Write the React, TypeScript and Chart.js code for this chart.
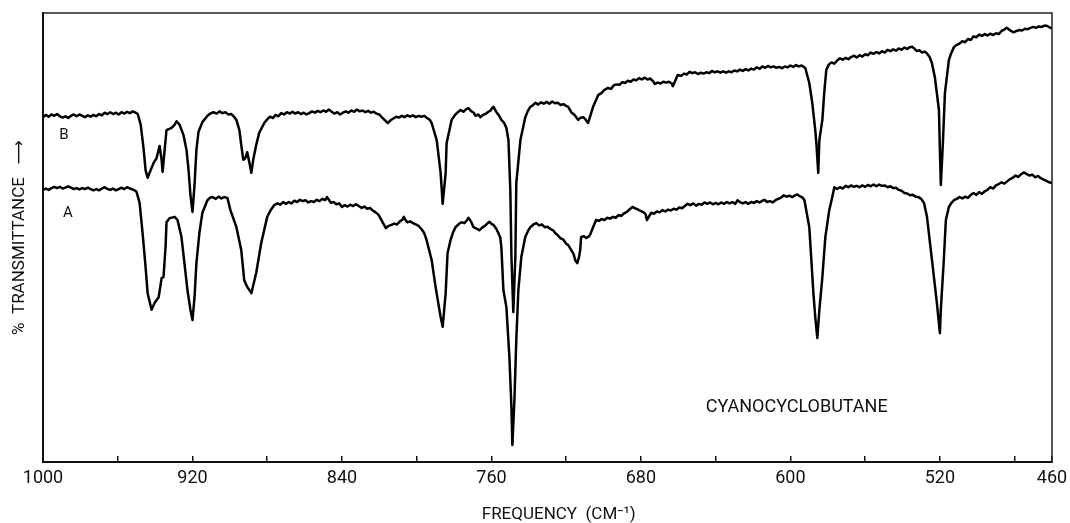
import React, { useEffect, useRef } from "react";
import { Chart, registerables } from "chart.js";

Chart.register(...registerables);

// Frequency axis (cm^-1), plotted high -> low
const freqMax = 1000;
const freqMin = 460;
const tickValues = [1000, 960, 920, 880, 840, 800, 760, 720, 680, 640, 600, 560, 520, 480, 460];
const labeledTicks = [1000, 920, 840, 760, 680, 600, 520, 460];

// Spectrum B (upper trace): [frequency, % transmittance]
const traceB: [number, number][] = [
  [1000, 76.8], [998.5, 77.3], [997, 76.9], [995.5, 77.4], [994, 77.1], [992.5, 77.5], [991, 77.0],
  [989.5, 76.7], [988, 77.0], [986.5, 76.6], [985, 77.1], [983.5, 77.4], [982, 77.0], [980.5, 77.4],
  [979, 77.1], [977.5, 76.8], [976, 77.2], [974.5, 76.9], [973, 77.3], [971.5, 77.0], [970, 77.5],
  [968.5, 77.2], [967, 77.8], [965.5, 77.5], [964, 77.9], [962.5, 77.5], [961, 77.8], [959.5, 77.4],
  [958, 77.9], [956.5, 77.6], [955, 78.0], [953.5, 77.7], [952, 78.1], [950.5, 77.8], [949.3, 77.5],
  [947.7, 75.1], [946.1, 69.5], [945.1, 65.0], [944.0, 63.3], [942.4, 65.0], [940.8, 66.6], [939.2, 67.7],
  [937.6, 70.4], [936.5, 67.3], [936.0, 64.6], [934.9, 69.5], [933.9, 73.9], [931.2, 74.4], [929.6, 75.1],
  [928.5, 75.9], [926.9, 75.1], [924.8, 72.8], [923.2, 69.5], [922.1, 65.0], [921.1, 59.5], [920.0, 55.7],
  [918.9, 61.7], [917.9, 69.5], [916.8, 73.5], [914.7, 75.7], [912.0, 77.1], [910.5, 77.6], [908.8, 77.9],
  [907, 77.6], [905.6, 78.1], [904, 77.7], [902.4, 77.9], [900.8, 77.4], [899.2, 77.5], [897.8, 76.9],
  [896.5, 76.2], [894.9, 73.9], [893.9, 70.6], [892.8, 67.3], [891.7, 67.7], [890.7, 69.0], [889.6, 66.8],
  [888.5, 64.4], [887.5, 67.3], [885.9, 70.6], [884.3, 73.3], [881.6, 75.5], [880, 76.3], [878.5, 76.9],
  [877, 76.6], [875.5, 77.3], [874, 77.0], [872.5, 77.7], [871, 77.4], [869.5, 77.9], [868, 77.6],
  [866.5, 78.0], [865, 77.6], [863.5, 77.9], [862, 77.5], [860.5, 77.8], [859, 77.4], [857.5, 77.7],
  [856, 78.1], [854.5, 77.8], [853, 78.2], [851.5, 77.9], [850, 78.3], [848.5, 78.0], [847, 78.5],
  [845.5, 78.0], [844, 77.6], [842.5, 77.9], [841, 77.4], [839.5, 77.8], [838, 78.1], [836.5, 77.8],
  [835, 78.3], [833.5, 78.0], [832, 78.5], [830.5, 78.1], [829, 78.3], [827.5, 77.9], [826, 78.2],
  [824.5, 77.8], [823, 78.0], [821.5, 77.6], [820, 77.4], [818.7, 76.8], [817, 76.1], [815.5, 75.5],
  [814, 76.1], [812.5, 76.5], [811, 76.9], [809.5, 76.7], [808, 77.1], [806.5, 76.8], [805, 77.2],
  [803.5, 76.9], [802, 77.2], [800.5, 76.8], [799, 77.1], [797.5, 76.9], [796, 77.1], [794.5, 76.6],
  [793, 76.2], [792.0, 75.5], [789.3, 71.7], [787.2, 64.4], [786.1, 57.5], [784.5, 64.4], [784.0, 71.0],
  [781.3, 76.2], [779.5, 77.3], [778, 77.9], [776.5, 78.4], [775, 78.0], [773.5, 78.6], [772.3, 78.8],
  [771, 78.2], [769.5, 77.8], [768.5, 77.1], [767, 77.4], [765.9, 76.8], [764.5, 77.3], [763.2, 77.5],
  [762, 77.9], [760.5, 78.3], [759.5, 78.9], [758.9, 79.1], [757.3, 77.9], [756, 77.2], [754.7, 76.2],
  [753.3, 75.6], [752.0, 74.4], [750.9, 71.7], [749.9, 60.6], [749.3, 45.7], [748.3, 33.4], [747.2, 45.7],
  [746.7, 62.1], [744.5, 71.7], [741.9, 76.8], [740.5, 78.2], [739.2, 79.1], [738, 79.4], [736.5, 80.0],
  [735, 79.6], [733.5, 80.1], [732, 79.8], [730.5, 80.2], [729, 79.8], [727.5, 80.3], [726, 79.9],
  [724.5, 80.0], [723, 79.5], [721.5, 79.7], [720, 79.3], [718.9, 79.1], [717.3, 77.9], [715.5, 77.3],
  [713.6, 76.2], [712.2, 76.7], [710.9, 76.8], [709.9, 76.4], [708.3, 75.5], [707, 77.2], [705.6, 79.1],
  [704, 80.6], [702.9, 81.7], [701, 82.2], [699.5, 82.9], [697.6, 83.3], [696, 83.1], [694.5, 83.9],
  [693, 84.1], [691.5, 84.0], [690, 84.6], [688.5, 84.4], [687, 84.9], [685.5, 84.7], [684, 85.2],
  [682.5, 85.0], [681, 85.5], [679.5, 85.2], [678, 85.6], [676.5, 85.2], [675, 85.4], [673.5, 84.8],
  [672.5, 84.2], [671, 84.5], [669.5, 84.3], [668, 84.7], [666.5, 84.5], [665, 84.7], [663.5, 84.3],
  [662.9, 83.7], [661.5, 85.0], [660.3, 86.2], [658.5, 86.0], [657, 86.5], [655.5, 86.3], [654, 86.9],
  [652.5, 86.6], [651, 86.8], [649.5, 86.4], [648, 86.7], [646.5, 86.5], [645, 86.8], [643.5, 86.6],
  [642, 87.1], [640.5, 86.8], [639, 87.0], [637.5, 86.7], [636, 87.0], [634.5, 86.7], [633, 87.0],
  [631.5, 86.8], [630, 87.2], [628.5, 87.0], [627, 87.4], [625.5, 87.1], [624, 87.5], [622.5, 87.2],
  [621, 87.6], [619.5, 87.4], [618, 87.9], [616.5, 87.6], [615, 88.1], [613.5, 87.8], [612, 88.2],
  [610.5, 87.9], [609, 88.1], [607.5, 87.8], [606, 88.0], [604.5, 87.7], [603, 88.1], [601.5, 87.9],
  [600, 88.3], [598.5, 88.0], [597, 88.4], [595.5, 88.1], [594, 88.3], [592.5, 87.9], [592.0, 87.7],
  [589.9, 84.4], [588.3, 80.0], [586.7, 73.9], [586.1, 71.0], [585.1, 64.4], [584.5, 71.7], [582.9, 76.2],
  [581.9, 82.2], [580.8, 87.3], [579.5, 88.5], [578, 89.0], [576.5, 88.7], [575, 89.4], [573.5, 89.9],
  [572, 89.6], [570.5, 90.0], [569, 89.7], [567.5, 90.2], [566, 90.5], [564.5, 90.1], [563, 90.6],
  [561.5, 90.3], [560, 90.8], [558.5, 90.6], [557, 91.2], [555.5, 90.9], [554, 91.3], [552.5, 91.0],
  [551, 91.5], [549.5, 91.2], [548, 91.8], [546.5, 91.5], [545, 91.9], [543.5, 91.6], [542, 92.1],
  [540.5, 91.8], [539, 92.3], [537.5, 92.0], [536, 92.4], [534.9, 92.5], [533.5, 92.0], [532.3, 91.5],
  [531, 91.7], [529.5, 91.2], [528, 91.4], [526.9, 91.0], [525.5, 90.2], [524.3, 88.9], [522.7, 85.7],
  [520.5, 78.4], [520.0, 69.5], [519.5, 61.7], [518.4, 71.0], [517.3, 82.2], [515.2, 89.5], [514, 91.0],
  [512.5, 92.4], [511, 92.9], [509.5, 93.2], [508, 93.7], [506.5, 93.5], [505, 94.2], [503.5, 94.0],
  [502, 94.8], [500.5, 94.6], [499, 95.2], [497.5, 94.9], [496, 95.3], [494.5, 95.0], [493, 95.4],
  [491.5, 95.1], [490, 95.5], [488.5, 95.3], [487, 96.0], [485.5, 96.3], [484.3, 96.7], [483, 96.3],
  [481.5, 95.9], [480.5, 95.7], [479, 96.0], [477.5, 96.2], [476, 96.1], [474.5, 96.5], [473, 96.4],
  [471.5, 96.7], [470, 96.9], [468.5, 96.7], [467, 97.0], [465.5, 96.9], [464, 97.2], [462.5, 97.1],
  [461, 96.7], [460, 96.6]
];

// Spectrum A (lower trace): [frequency, % transmittance]
const traceA: [number, number][] = [
  [1000, 60.6], [998.5, 60.9], [997, 60.6], [995.5, 61.0], [994, 61.3], [992.5, 61.0], [991, 61.3],
  [989.5, 60.9], [988, 61.1], [986.5, 61.4], [985, 61.1], [983.5, 60.8], [982, 61.0], [980.5, 60.7],
  [979, 61.0], [977.5, 60.8], [976, 61.1], [974.5, 60.8], [973, 60.5], [971.5, 60.8], [970, 60.5],
  [968.5, 60.9], [967, 61.2], [965.5, 60.8], [964, 60.6], [962.5, 60.9], [961, 60.5], [959.5, 60.8],
  [958, 61.1], [956.5, 60.8], [955, 61.2], [953.5, 60.9], [952, 60.7], [950.5, 60.4], [949.9, 60.1],
  [948.3, 57.7], [946.7, 51.0], [945.1, 43.4], [944.0, 37.6], [941.9, 33.9], [940.3, 35.4], [938.1, 36.7],
  [936.5, 41.0], [935.5, 41.2], [934.4, 48.0], [933.9, 53.4], [932.3, 54.3], [929.6, 54.6], [928.0, 53.9],
  [925.9, 50.1], [924.3, 44.3], [922.7, 38.3], [921.1, 33.9], [920.0, 31.6], [918.9, 36.7], [917.9, 44.3],
  [916.3, 51.0], [914.7, 55.5], [912.0, 58.3], [910.5, 58.9], [909.3, 59.0], [907.5, 58.6], [906, 59.1],
  [904.5, 58.7], [903, 59.0], [901.3, 58.8], [899.7, 56.1], [896.5, 52.3], [893.9, 47.2], [892.3, 40.5],
  [890.7, 39.0], [888.5, 37.6], [885.9, 42.1], [883.2, 48.8], [880.0, 54.6], [878, 56.2], [876.3, 57.2],
  [874.5, 57.6], [873, 57.3], [871.5, 57.9], [870, 57.5], [868.5, 57.9], [867, 57.6], [865.5, 58.2],
  [864, 57.9], [862.5, 58.4], [861, 58.1], [859.5, 58.3], [858, 57.8], [856.5, 58.1], [855, 57.9],
  [853.5, 58.4], [852, 58.1], [850.5, 58.6], [849, 58.3], [848, 59.0], [847, 58.4], [845.9, 57.7],
  [844.5, 57.9], [843, 57.4], [841.5, 57.6], [840, 56.8], [838.5, 57.2], [837, 56.9], [835.5, 57.3],
  [834, 57.0], [832.5, 57.4], [831, 57.0], [829.5, 56.6], [828, 56.9], [826.5, 56.4], [825, 56.6],
  [823.5, 56.0], [822, 55.6], [820.5, 55.1], [819, 54.0], [818, 53.2], [816.5, 52.1], [815, 52.6],
  [813.5, 52.8], [812, 53.1], [810.5, 52.9], [809, 53.6], [807.5, 54.0], [806.9, 54.6], [806, 53.9],
  [805, 53.4], [803.5, 53.6], [802, 53.2], [800.5, 52.9], [799, 52.6], [797.5, 51.9], [796, 51.0],
  [794.7, 49.4], [792.0, 45.0], [789.9, 39.0], [787.2, 32.3], [786.1, 30.1], [784.5, 37.6], [783.5, 46.5],
  [781.9, 49.4], [780.5, 51.2], [779.2, 52.3], [777.5, 53.0], [776, 53.4], [774.5, 53.2], [773, 53.9],
  [772.3, 54.4], [771, 53.6], [769.6, 52.3], [768, 52.0], [766.5, 51.6], [765, 52.2], [763.5, 52.6],
  [762, 53.2], [761, 53.5], [759.8, 53.0], [758.9, 52.8], [757.5, 52.0], [756.3, 51.0], [755.3, 50.0],
  [754.7, 47.9], [753.6, 38.3], [752.0, 34.5], [750.4, 23.4], [749.3, 12.2], [748.8, 3.8], [747.7, 13.8],
  [746.7, 27.2], [745.6, 38.3], [744.0, 45.7], [741.9, 50.1], [740.5, 51.4], [739.2, 52.3], [737.5, 52.9],
  [736, 53.2], [734.5, 52.7], [733, 52.9], [731.5, 52.3], [730, 52.4], [728.5, 51.9], [727, 51.6],
  [725.9, 51.0], [724.5, 50.5], [723, 49.8], [721.5, 49.5], [720, 48.6], [718.9, 48.3], [717.3, 47.2],
  [716, 46.3], [715.2, 45.0], [714.1, 44.3], [713.2, 45.5], [712.5, 47.2], [712.0, 50.1], [710.5, 50.3],
  [709.3, 49.9], [708, 50.2], [707.2, 50.6], [705.6, 52.3], [704, 53.9], [702.5, 53.7], [701, 54.1],
  [699.5, 53.9], [698, 54.4], [696.5, 54.2], [695, 54.6], [693.5, 54.4], [692, 55.0], [690.5, 54.8],
  [689, 55.4], [687.5, 55.7], [686, 56.3], [684.5, 56.8], [683, 56.5], [681.5, 56.2], [680, 55.9],
  [678.5, 55.6], [677.5, 55.2], [676.8, 53.9], [675.5, 54.8], [674.5, 55.5], [673, 55.3], [671.5, 55.8],
  [670, 55.6], [668.5, 56.1], [667, 55.8], [665.5, 56.2], [664, 56.0], [662.5, 56.4], [661, 56.2],
  [659.5, 56.7], [658, 56.5], [656.5, 57.0], [655, 57.5], [653.5, 57.2], [652, 57.6], [650.5, 57.1],
  [649, 57.5], [647.5, 57.3], [646, 57.8], [644.5, 57.5], [643, 57.8], [641.5, 57.4], [640, 57.7],
  [638.5, 57.4], [637, 57.8], [635.5, 57.5], [634, 57.9], [632.5, 57.6], [631, 57.9], [629.5, 57.5],
  [628.3, 58.3], [627, 57.9], [625.5, 57.6], [624, 57.9], [622.5, 57.5], [621, 57.9], [619.5, 57.7],
  [618, 58.1], [616.5, 57.8], [615, 58.2], [613.9, 58.4], [612.5, 57.9], [611, 58.1], [609.5, 57.8],
  [608, 58.3], [606.5, 58.6], [605, 58.9], [603.5, 59.4], [602, 59.1], [600.5, 59.3], [599, 59.0],
  [597.5, 59.4], [596.3, 59.6], [595, 59.2], [593.5, 58.9], [592.5, 58.3], [590.9, 54.6], [589.9, 52.3],
  [588.8, 45.0], [587.7, 37.6], [586.7, 32.3], [585.6, 27.6], [584.5, 33.9], [582.9, 41.2], [581.3, 50.1],
  [579.2, 56.1], [577.6, 59.0], [576.5, 61.2], [575, 60.8], [573.5, 61.2], [572, 60.9], [570.5, 61.5],
  [569, 61.2], [567.5, 61.6], [566, 61.3], [564.5, 61.5], [563, 61.2], [561.5, 61.6], [560, 61.3],
  [558.5, 61.7], [557, 61.4], [555.5, 61.8], [554, 61.4], [552.5, 61.8], [551, 61.5], [549.5, 61.6],
  [548, 61.2], [546.5, 61.4], [545, 61.0], [543.5, 61.1], [542, 60.6], [540.5, 60.4], [539, 59.9],
  [537.5, 59.8], [536, 59.4], [534.5, 59.5], [533, 59.1], [531.5, 59.0], [530, 58.6], [528.5, 57.7],
  [526.9, 54.6], [525.3, 48.8], [523.2, 41.2], [521.6, 35.4], [520.0, 28.7], [519.5, 33.9], [517.9, 45.0],
  [516.8, 53.9], [515.2, 56.8], [514, 57.6], [512.5, 58.3], [511, 58.6], [509.5, 59.0], [508, 58.7],
  [506.5, 59.1], [505, 58.8], [503.5, 59.5], [502, 59.9], [500.5, 59.5], [499, 60.1], [497.5, 59.7],
  [496, 60.3], [494.5, 60.6], [493, 61.2], [491.5, 60.9], [490, 61.6], [488.5, 61.9], [487, 62.3],
  [485.5, 62.0], [484, 62.5], [482.5, 63.0], [481, 63.3], [479.5, 63.8], [478, 63.5], [476.5, 64.1],
  [475, 64.5], [473.5, 64.1], [472, 63.8], [470.5, 64.0], [469, 63.4], [467.5, 63.7], [466, 63.2],
  [464.5, 62.9], [463, 62.6], [461.5, 62.3], [460, 62.1]
];

const traceLabels = ["B", "A"];
const compoundName = "CYANOCYCLOBUTANE";
const xTitle = "FREQUENCY  (CM\u207B\u00B9)";
const yTitle = "%  TRANSMITTANCE   \u27F6";

const FONT = "Roboto, 'DejaVu Sans', sans-serif";

// Text placed in data coordinates (frequency, % transmittance)
const annotations = [
  { text: traceLabels[0], x: 988.8, y: 72.8, size: 15, align: "center" as CanvasTextAlign },
  { text: traceLabels[1], x: 986.7, y: 55.5, size: 15, align: "center" as CanvasTextAlign },
  { text: compoundName, x: 645.3, y: 12.2, size: 18, align: "left" as CanvasTextAlign },
];

const framePlugin = {
  id: "frame",
  afterDraw(chart: any) {
    const { ctx, chartArea } = chart;
    ctx.save();
    ctx.strokeStyle = "#222";
    ctx.lineWidth = 1.5;
    ctx.beginPath();
    ctx.moveTo(chartArea.left, chartArea.top);
    ctx.lineTo(chartArea.right, chartArea.top);
    ctx.lineTo(chartArea.right, chartArea.bottom);
    ctx.stroke();
    ctx.restore();
  },
};

const textPlugin = {
  id: "textLabels",
  afterDraw(chart: any) {
    const { ctx } = chart;
    const xs = chart.scales.x;
    const ys = chart.scales.y;
    ctx.save();
    ctx.fillStyle = "#111";
    ctx.textBaseline = "middle";
    for (const a of annotations) {
      ctx.font = `${a.size}px ${FONT}`;
      ctx.textAlign = a.align;
      ctx.fillText(a.text, xs.getPixelForValue(a.x), ys.getPixelForValue(a.y));
    }
    // x-axis title, centred under the frequency scale
    ctx.font = `17px ${FONT}`;
    ctx.textAlign = "center";
    ctx.fillText(xTitle, xs.getPixelForValue(724), xs.bottom - 8);
    ctx.restore();
  },
};

export default function App() {
  const ref = useRef<HTMLCanvasElement | null>(null);

  useEffect(() => {
    if (!ref.current) return;
    Chart.defaults.font.family = FONT;
    const lineStyle = {
      borderColor: "#000",
      borderWidth: 2.5,
      pointRadius: 0,
      tension: 0,
      fill: false,
      borderJoinStyle: "round" as const,
      borderCapStyle: "round" as const,
    };
    const chart = new Chart(ref.current, {
      type: "line",
      data: {
        datasets: [
          { label: "B", data: traceB.map(([x, y]) => ({ x, y })), ...lineStyle },
          { label: "A", data: traceA.map(([x, y]) => ({ x, y })), ...lineStyle },
        ],
      },
      options: {
        responsive: false,
        animation: false,
        layout: { padding: { left: 0, top: 13, right: 18, bottom: 0 } },
        plugins: { legend: { display: false }, tooltip: { enabled: false } },
        scales: {
          x: {
            type: "linear",
            reverse: true,
            min: freqMin,
            max: freqMax,
            afterBuildTicks: (s: any) => {
              s.ticks = tickValues.map((v) => ({ value: v }));
            },
            afterFit: (s: any) => {
              s.height = 61;
              s.paddingLeft = 0;
              s.paddingRight = 0;
            },
            ticks: {
              autoSkip: false,
              maxRotation: 0,
              padding: 12,
              color: "#111",
              font: { size: 18 },
              callback: (v: any) => (labeledTicks.includes(Number(v)) ? String(v) : ""),
            },
            grid: {
              drawOnChartArea: false,
              drawTicks: true,
              tickLength: -6,
              color: "#111",
              lineWidth: 1.5,
            },
            border: { display: true, color: "#111", width: 2 },
            title: { display: false },
          },
          y: {
            type: "linear",
            min: 0,
            max: 100,
            afterFit: (s: any) => {
              s.width = 43;
            },
            ticks: { display: false },
            grid: { display: false, drawTicks: false },
            border: { display: true, color: "#111", width: 2 },
            title: {
              display: true,
              text: yTitle,
              color: "#111",
              font: { size: 17 },
              padding: { top: 10, bottom: 0 },
            },
          },
        },
      },
      plugins: [framePlugin, textPlugin],
    });
    return () => chart.destroy();
  }, []);

  return (
    <div style={{ position: "absolute", left: 0, top: 0, width: 1070, height: 523, background: "#fff" }}>
      <canvas ref={ref} width={1070} height={523} />
    </div>
  );
}
